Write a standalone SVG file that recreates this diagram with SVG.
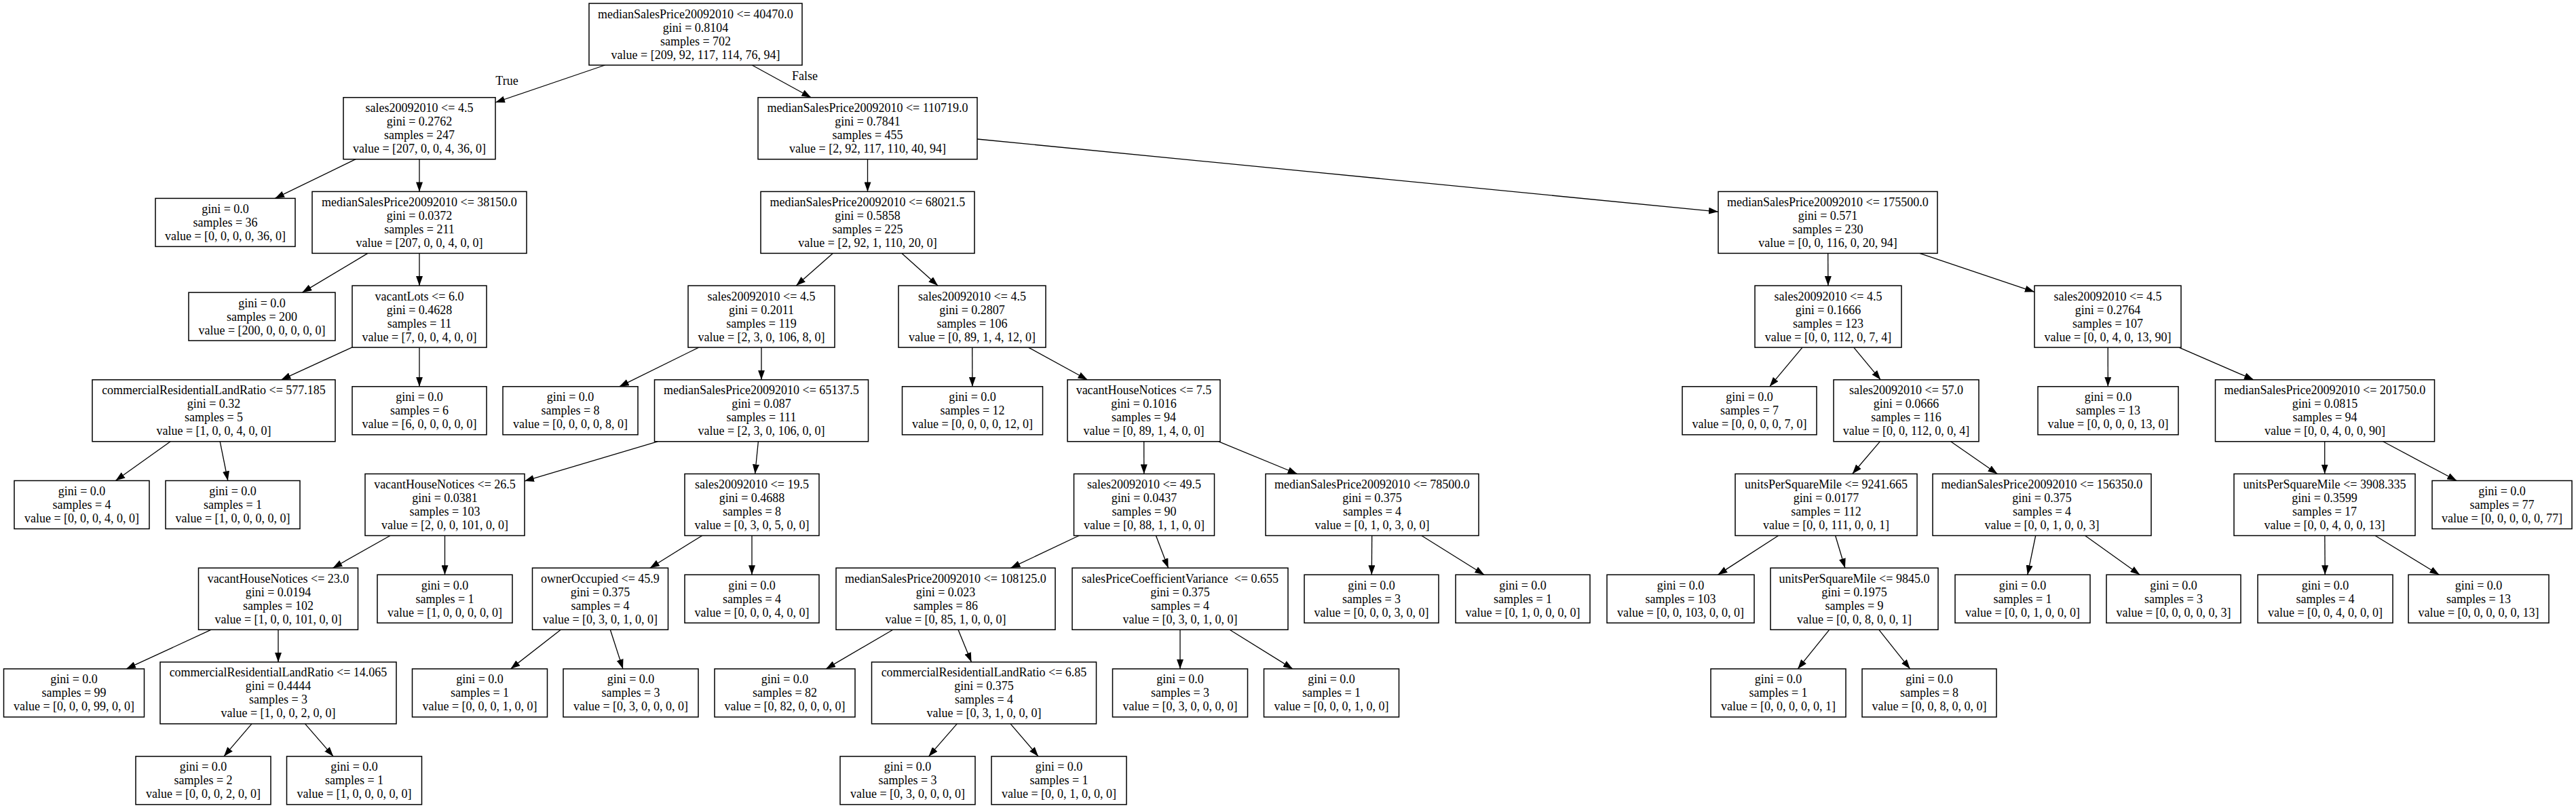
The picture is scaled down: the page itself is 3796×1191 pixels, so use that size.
<svg xmlns="http://www.w3.org/2000/svg" width="3796" height="1191" viewBox="0 0 3796 1191">
<style>
.node rect{fill:#fff;stroke:#000;stroke-width:1.5}
text{font-family:"Liberation Serif","Times New Roman",serif;font-size:18px;text-anchor:middle;fill:#000}
.edges line{stroke:#000;stroke-width:1.3;marker-end:url(#ah)}
</style>
<defs>
<marker id="ah" markerUnits="userSpaceOnUse" markerWidth="14" markerHeight="10" refX="14" refY="5" orient="auto"><path d="M0,0 L14,5 L0,10 z" fill="#000"/></marker>
</defs>
<rect x="0" y="0" width="3796" height="1191" fill="#fff"/>
<g class="edges">
<line x1="891.5" y1="96" x2="730" y2="151"/>
<line x1="1108.2" y1="96" x2="1195.3" y2="143.7"/>
<line x1="524.2" y1="234.7" x2="405.2" y2="292.4"/>
<line x1="618" y1="234.7" x2="618" y2="282.4"/>
<line x1="1278.5" y1="234.7" x2="1278.5" y2="282.4"/>
<line x1="1440" y1="205" x2="2532" y2="312.1"/>
<line x1="541.9" y1="373.4" x2="445.4" y2="431.1"/>
<line x1="618" y1="373.4" x2="618" y2="421.1"/>
<line x1="1227.2" y1="373.4" x2="1173.3" y2="421.1"/>
<line x1="1329" y1="373.4" x2="1382" y2="421.1"/>
<line x1="2693.7" y1="373.4" x2="2693.9" y2="421.1"/>
<line x1="2828.8" y1="373.4" x2="2998" y2="430.3"/>
<line x1="519" y1="511.9" x2="414.4" y2="559.8"/>
<line x1="618" y1="512.1" x2="618" y2="569.8"/>
<line x1="1029.7" y1="512.1" x2="912.6" y2="569.8"/>
<line x1="1122" y1="512.1" x2="1122" y2="559.8"/>
<line x1="1432.7" y1="512.1" x2="1432.9" y2="569.8"/>
<line x1="1515.5" y1="512.1" x2="1602.5" y2="559.8"/>
<line x1="2656" y1="512.1" x2="2607.7" y2="569.8"/>
<line x1="2731.7" y1="512.1" x2="2771.3" y2="559.8"/>
<line x1="3106.2" y1="512.1" x2="3106.3" y2="569.8"/>
<line x1="3211" y1="512.1" x2="3321" y2="559.8"/>
<line x1="251.2" y1="650.8" x2="170.3" y2="708.5"/>
<line x1="324.2" y1="650.8" x2="335.8" y2="708.5"/>
<line x1="969" y1="650.8" x2="773" y2="709.1"/>
<line x1="1117.4" y1="650.8" x2="1112.6" y2="698.5"/>
<line x1="1685.7" y1="650.8" x2="1685.8" y2="698.5"/>
<line x1="1795.9" y1="650.8" x2="1911.6" y2="698.5"/>
<line x1="2770.3" y1="650.8" x2="2729.7" y2="698.5"/>
<line x1="2874.6" y1="650.8" x2="2943.4" y2="698.5"/>
<line x1="3425.7" y1="650.8" x2="3425.7" y2="698.5"/>
<line x1="3511.6" y1="650.8" x2="3620.2" y2="708.5"/>
<line x1="575" y1="789.5" x2="490.5" y2="837.2"/>
<line x1="655.5" y1="789.5" x2="655.5" y2="847.2"/>
<line x1="1034.7" y1="789.5" x2="957.8" y2="837.2"/>
<line x1="1108" y1="789.5" x2="1108" y2="847.2"/>
<line x1="1590.1" y1="789.5" x2="1489.4" y2="837.2"/>
<line x1="1703.4" y1="789.5" x2="1721.6" y2="837.2"/>
<line x1="2021.7" y1="789.5" x2="2021.3" y2="847.2"/>
<line x1="2094.8" y1="789.5" x2="2187.2" y2="847.2"/>
<line x1="2620.6" y1="789.5" x2="2531.4" y2="847.2"/>
<line x1="2704.6" y1="789.5" x2="2718.9" y2="837.2"/>
<line x1="2999.7" y1="789.5" x2="2987.8" y2="847.2"/>
<line x1="3072.6" y1="789.5" x2="3153.3" y2="847.2"/>
<line x1="3425.8" y1="789.5" x2="3426.2" y2="847.2"/>
<line x1="3500" y1="789.5" x2="3594.4" y2="847.2"/>
<line x1="311.3" y1="928.2" x2="186.1" y2="985.9"/>
<line x1="410" y1="928.2" x2="410" y2="975.9"/>
<line x1="826.3" y1="928.2" x2="752.4" y2="985.9"/>
<line x1="899.3" y1="928.2" x2="918" y2="985.9"/>
<line x1="1315.8" y1="928.2" x2="1217.2" y2="985.9"/>
<line x1="1412" y1="928.2" x2="1431.5" y2="975.9"/>
<line x1="1739" y1="928.2" x2="1739" y2="985.9"/>
<line x1="1812.1" y1="928.2" x2="1904.9" y2="985.9"/>
<line x1="2695.8" y1="928.2" x2="2649.2" y2="985.9"/>
<line x1="2768.7" y1="928.2" x2="2814.7" y2="985.9"/>
<line x1="371" y1="1066.9" x2="329.9" y2="1114.9"/>
<line x1="449.5" y1="1066.9" x2="491.2" y2="1114.9"/>
<line x1="1410.3" y1="1066.9" x2="1368.5" y2="1114.9"/>
<line x1="1489" y1="1066.9" x2="1530.1" y2="1114.9"/>
<text x="747" y="125">True</text>
<text x="1186" y="118">False</text>
</g>
<g id="n0" class="node"><rect x="868" y="5" width="314" height="91"/><text x="1025" y="26.5">medianSalesPrice20092010 &lt;= 40470.0<tspan x="1025" dy="20">gini = 0.8104</tspan><tspan x="1025" dy="20">samples = 702</tspan><tspan x="1025" dy="20">value = [209, 92, 117, 114, 76, 94]</tspan></text></g>
<g id="n1" class="node"><rect x="506" y="143.7" width="224" height="91"/><text x="618" y="165.2">sales20092010 &lt;= 4.5<tspan x="618" dy="20">gini = 0.2762</tspan><tspan x="618" dy="20">samples = 247</tspan><tspan x="618" dy="20">value = [207, 0, 0, 4, 36, 0]</tspan></text></g>
<g id="n2" class="node"><rect x="1117" y="143.7" width="323" height="91"/><text x="1278.5" y="165.2">medianSalesPrice20092010 &lt;= 110719.0<tspan x="1278.5" dy="20">gini = 0.7841</tspan><tspan x="1278.5" dy="20">samples = 455</tspan><tspan x="1278.5" dy="20">value = [2, 92, 117, 110, 40, 94]</tspan></text></g>
<g id="n3" class="node"><rect x="229" y="292.4" width="206" height="71"/><text x="332" y="313.9">gini = 0.0<tspan x="332" dy="20">samples = 36</tspan><tspan x="332" dy="20">value = [0, 0, 0, 0, 36, 0]</tspan></text></g>
<g id="n4" class="node"><rect x="460" y="282.4" width="316" height="91"/><text x="618" y="303.9">medianSalesPrice20092010 &lt;= 38150.0<tspan x="618" dy="20">gini = 0.0372</tspan><tspan x="618" dy="20">samples = 211</tspan><tspan x="618" dy="20">value = [207, 0, 0, 4, 0, 0]</tspan></text></g>
<g id="n5" class="node"><rect x="1121" y="282.4" width="315" height="91"/><text x="1278.5" y="303.9">medianSalesPrice20092010 &lt;= 68021.5<tspan x="1278.5" dy="20">gini = 0.5858</tspan><tspan x="1278.5" dy="20">samples = 225</tspan><tspan x="1278.5" dy="20">value = [2, 92, 1, 110, 20, 0]</tspan></text></g>
<g id="n6" class="node"><rect x="2532" y="282.4" width="323" height="91"/><text x="2693.5" y="303.9">medianSalesPrice20092010 &lt;= 175500.0<tspan x="2693.5" dy="20">gini = 0.571</tspan><tspan x="2693.5" dy="20">samples = 230</tspan><tspan x="2693.5" dy="20">value = [0, 0, 116, 0, 20, 94]</tspan></text></g>
<g id="n7" class="node"><rect x="278" y="431.1" width="216" height="71"/><text x="386" y="452.6">gini = 0.0<tspan x="386" dy="20">samples = 200</tspan><tspan x="386" dy="20">value = [200, 0, 0, 0, 0, 0]</tspan></text></g>
<g id="n8" class="node"><rect x="519" y="421.1" width="198" height="91"/><text x="618" y="442.6">vacantLots &lt;= 6.0<tspan x="618" dy="20">gini = 0.4628</tspan><tspan x="618" dy="20">samples = 11</tspan><tspan x="618" dy="20">value = [7, 0, 0, 4, 0, 0]</tspan></text></g>
<g id="n9" class="node"><rect x="1014" y="421.1" width="216" height="91"/><text x="1122" y="442.6">sales20092010 &lt;= 4.5<tspan x="1122" dy="20">gini = 0.2011</tspan><tspan x="1122" dy="20">samples = 119</tspan><tspan x="1122" dy="20">value = [2, 3, 0, 106, 8, 0]</tspan></text></g>
<g id="n10" class="node"><rect x="1324" y="421.1" width="217" height="91"/><text x="1432.5" y="442.6">sales20092010 &lt;= 4.5<tspan x="1432.5" dy="20">gini = 0.2807</tspan><tspan x="1432.5" dy="20">samples = 106</tspan><tspan x="1432.5" dy="20">value = [0, 89, 1, 4, 12, 0]</tspan></text></g>
<g id="n11" class="node"><rect x="2586" y="421.1" width="216" height="91"/><text x="2694" y="442.6">sales20092010 &lt;= 4.5<tspan x="2694" dy="20">gini = 0.1666</tspan><tspan x="2694" dy="20">samples = 123</tspan><tspan x="2694" dy="20">value = [0, 0, 112, 0, 7, 4]</tspan></text></g>
<g id="n12" class="node"><rect x="2998" y="421.1" width="216" height="91"/><text x="3106" y="442.6">sales20092010 &lt;= 4.5<tspan x="3106" dy="20">gini = 0.2764</tspan><tspan x="3106" dy="20">samples = 107</tspan><tspan x="3106" dy="20">value = [0, 0, 4, 0, 13, 90]</tspan></text></g>
<g id="n13" class="node"><rect x="136" y="559.8" width="358" height="91"/><text x="315" y="581.3">commercialResidentialLandRatio &lt;= 577.185<tspan x="315" dy="20">gini = 0.32</tspan><tspan x="315" dy="20">samples = 5</tspan><tspan x="315" dy="20">value = [1, 0, 0, 4, 0, 0]</tspan></text></g>
<g id="n14" class="node"><rect x="519" y="569.8" width="198" height="71"/><text x="618" y="591.3">gini = 0.0<tspan x="618" dy="20">samples = 6</tspan><tspan x="618" dy="20">value = [6, 0, 0, 0, 0, 0]</tspan></text></g>
<g id="n15" class="node"><rect x="741" y="569.8" width="199" height="71"/><text x="840.5" y="591.3">gini = 0.0<tspan x="840.5" dy="20">samples = 8</tspan><tspan x="840.5" dy="20">value = [0, 0, 0, 0, 8, 0]</tspan></text></g>
<g id="n16" class="node"><rect x="964.5" y="559.8" width="315" height="91"/><text x="1122" y="581.3">medianSalesPrice20092010 &lt;= 65137.5<tspan x="1122" dy="20">gini = 0.087</tspan><tspan x="1122" dy="20">samples = 111</tspan><tspan x="1122" dy="20">value = [2, 3, 0, 106, 0, 0]</tspan></text></g>
<g id="n17" class="node"><rect x="1329.5" y="569.8" width="207" height="71"/><text x="1433" y="591.3">gini = 0.0<tspan x="1433" dy="20">samples = 12</tspan><tspan x="1433" dy="20">value = [0, 0, 0, 0, 12, 0]</tspan></text></g>
<g id="n18" class="node"><rect x="1573" y="559.8" width="225" height="91"/><text x="1685.5" y="581.3">vacantHouseNotices &lt;= 7.5<tspan x="1685.5" dy="20">gini = 0.1016</tspan><tspan x="1685.5" dy="20">samples = 94</tspan><tspan x="1685.5" dy="20">value = [0, 89, 1, 4, 0, 0]</tspan></text></g>
<g id="n19" class="node"><rect x="2479" y="569.8" width="198" height="71"/><text x="2578" y="591.3">gini = 0.0<tspan x="2578" dy="20">samples = 7</tspan><tspan x="2578" dy="20">value = [0, 0, 0, 0, 7, 0]</tspan></text></g>
<g id="n20" class="node"><rect x="2702" y="559.8" width="214" height="91"/><text x="2809" y="581.3">sales20092010 &lt;= 57.0<tspan x="2809" dy="20">gini = 0.0666</tspan><tspan x="2809" dy="20">samples = 116</tspan><tspan x="2809" dy="20">value = [0, 0, 112, 0, 0, 4]</tspan></text></g>
<g id="n21" class="node"><rect x="3003" y="569.8" width="207" height="71"/><text x="3106.5" y="591.3">gini = 0.0<tspan x="3106.5" dy="20">samples = 13</tspan><tspan x="3106.5" dy="20">value = [0, 0, 0, 0, 13, 0]</tspan></text></g>
<g id="n22" class="node"><rect x="3264.5" y="559.8" width="323" height="91"/><text x="3426" y="581.3">medianSalesPrice20092010 &lt;= 201750.0<tspan x="3426" dy="20">gini = 0.0815</tspan><tspan x="3426" dy="20">samples = 94</tspan><tspan x="3426" dy="20">value = [0, 0, 4, 0, 0, 90]</tspan></text></g>
<g id="n23" class="node"><rect x="21" y="708.5" width="199" height="71"/><text x="120.5" y="730">gini = 0.0<tspan x="120.5" dy="20">samples = 4</tspan><tspan x="120.5" dy="20">value = [0, 0, 0, 4, 0, 0]</tspan></text></g>
<g id="n24" class="node"><rect x="244" y="708.5" width="198" height="71"/><text x="343" y="730">gini = 0.0<tspan x="343" dy="20">samples = 1</tspan><tspan x="343" dy="20">value = [1, 0, 0, 0, 0, 0]</tspan></text></g>
<g id="n25" class="node"><rect x="538" y="698.5" width="235" height="91"/><text x="655.5" y="720">vacantHouseNotices &lt;= 26.5<tspan x="655.5" dy="20">gini = 0.0381</tspan><tspan x="655.5" dy="20">samples = 103</tspan><tspan x="655.5" dy="20">value = [2, 0, 0, 101, 0, 0]</tspan></text></g>
<g id="n26" class="node"><rect x="1009" y="698.5" width="198" height="91"/><text x="1108" y="720">sales20092010 &lt;= 19.5<tspan x="1108" dy="20">gini = 0.4688</tspan><tspan x="1108" dy="20">samples = 8</tspan><tspan x="1108" dy="20">value = [0, 3, 0, 5, 0, 0]</tspan></text></g>
<g id="n27" class="node"><rect x="1582.5" y="698.5" width="207" height="91"/><text x="1686" y="720">sales20092010 &lt;= 49.5<tspan x="1686" dy="20">gini = 0.0437</tspan><tspan x="1686" dy="20">samples = 90</tspan><tspan x="1686" dy="20">value = [0, 88, 1, 1, 0, 0]</tspan></text></g>
<g id="n28" class="node"><rect x="1865" y="698.5" width="314" height="91"/><text x="2022" y="720">medianSalesPrice20092010 &lt;= 78500.0<tspan x="2022" dy="20">gini = 0.375</tspan><tspan x="2022" dy="20">samples = 4</tspan><tspan x="2022" dy="20">value = [0, 1, 0, 3, 0, 0]</tspan></text></g>
<g id="n29" class="node"><rect x="2557" y="698.5" width="268" height="91"/><text x="2691" y="720">unitsPerSquareMile &lt;= 9241.665<tspan x="2691" dy="20">gini = 0.0177</tspan><tspan x="2691" dy="20">samples = 112</tspan><tspan x="2691" dy="20">value = [0, 0, 111, 0, 0, 1]</tspan></text></g>
<g id="n30" class="node"><rect x="2848" y="698.5" width="322" height="91"/><text x="3009" y="720">medianSalesPrice20092010 &lt;= 156350.0<tspan x="3009" dy="20">gini = 0.375</tspan><tspan x="3009" dy="20">samples = 4</tspan><tspan x="3009" dy="20">value = [0, 0, 1, 0, 0, 3]</tspan></text></g>
<g id="n31" class="node"><rect x="3292" y="698.5" width="267" height="91"/><text x="3425.5" y="720">unitsPerSquareMile &lt;= 3908.335<tspan x="3425.5" dy="20">gini = 0.3599</tspan><tspan x="3425.5" dy="20">samples = 17</tspan><tspan x="3425.5" dy="20">value = [0, 0, 4, 0, 0, 13]</tspan></text></g>
<g id="n32" class="node"><rect x="3584" y="708.5" width="206" height="71"/><text x="3687" y="730">gini = 0.0<tspan x="3687" dy="20">samples = 77</tspan><tspan x="3687" dy="20">value = [0, 0, 0, 0, 0, 77]</tspan></text></g>
<g id="n33" class="node"><rect x="292.5" y="837.2" width="235" height="91"/><text x="410" y="858.7">vacantHouseNotices &lt;= 23.0<tspan x="410" dy="20">gini = 0.0194</tspan><tspan x="410" dy="20">samples = 102</tspan><tspan x="410" dy="20">value = [1, 0, 0, 101, 0, 0]</tspan></text></g>
<g id="n34" class="node"><rect x="556" y="847.2" width="199" height="71"/><text x="655.5" y="868.7">gini = 0.0<tspan x="655.5" dy="20">samples = 1</tspan><tspan x="655.5" dy="20">value = [1, 0, 0, 0, 0, 0]</tspan></text></g>
<g id="n35" class="node"><rect x="784.5" y="837.2" width="200" height="91"/><text x="884.5" y="858.7">ownerOccupied &lt;= 45.9<tspan x="884.5" dy="20">gini = 0.375</tspan><tspan x="884.5" dy="20">samples = 4</tspan><tspan x="884.5" dy="20">value = [0, 3, 0, 1, 0, 0]</tspan></text></g>
<g id="n36" class="node"><rect x="1009" y="847.2" width="198" height="71"/><text x="1108" y="868.7">gini = 0.0<tspan x="1108" dy="20">samples = 4</tspan><tspan x="1108" dy="20">value = [0, 0, 0, 4, 0, 0]</tspan></text></g>
<g id="n37" class="node"><rect x="1232" y="837.2" width="323" height="91"/><text x="1393.5" y="858.7">medianSalesPrice20092010 &lt;= 108125.0<tspan x="1393.5" dy="20">gini = 0.023</tspan><tspan x="1393.5" dy="20">samples = 86</tspan><tspan x="1393.5" dy="20">value = [0, 85, 1, 0, 0, 0]</tspan></text></g>
<g id="n38" class="node"><rect x="1580" y="837.2" width="318" height="91"/><text x="1739" y="858.7">salesPriceCoefficientVariance&#160; &lt;= 0.655<tspan x="1739" dy="20">gini = 0.375</tspan><tspan x="1739" dy="20">samples = 4</tspan><tspan x="1739" dy="20">value = [0, 3, 0, 1, 0, 0]</tspan></text></g>
<g id="n39" class="node"><rect x="1922" y="847.2" width="198" height="71"/><text x="2021" y="868.7">gini = 0.0<tspan x="2021" dy="20">samples = 3</tspan><tspan x="2021" dy="20">value = [0, 0, 0, 3, 0, 0]</tspan></text></g>
<g id="n40" class="node"><rect x="2145" y="847.2" width="198" height="71"/><text x="2244" y="868.7">gini = 0.0<tspan x="2244" dy="20">samples = 1</tspan><tspan x="2244" dy="20">value = [0, 1, 0, 0, 0, 0]</tspan></text></g>
<g id="n41" class="node"><rect x="2368" y="847.2" width="217" height="71"/><text x="2476.5" y="868.7">gini = 0.0<tspan x="2476.5" dy="20">samples = 103</tspan><tspan x="2476.5" dy="20">value = [0, 0, 103, 0, 0, 0]</tspan></text></g>
<g id="n42" class="node"><rect x="2609" y="837.2" width="247" height="91"/><text x="2732.5" y="858.7">unitsPerSquareMile &lt;= 9845.0<tspan x="2732.5" dy="20">gini = 0.1975</tspan><tspan x="2732.5" dy="20">samples = 9</tspan><tspan x="2732.5" dy="20">value = [0, 0, 8, 0, 0, 1]</tspan></text></g>
<g id="n43" class="node"><rect x="2881" y="847.2" width="199" height="71"/><text x="2980.5" y="868.7">gini = 0.0<tspan x="2980.5" dy="20">samples = 1</tspan><tspan x="2980.5" dy="20">value = [0, 0, 1, 0, 0, 0]</tspan></text></g>
<g id="n44" class="node"><rect x="3104" y="847.2" width="198" height="71"/><text x="3203" y="868.7">gini = 0.0<tspan x="3203" dy="20">samples = 3</tspan><tspan x="3203" dy="20">value = [0, 0, 0, 0, 0, 3]</tspan></text></g>
<g id="n45" class="node"><rect x="3327" y="847.2" width="199" height="71"/><text x="3426.5" y="868.7">gini = 0.0<tspan x="3426.5" dy="20">samples = 4</tspan><tspan x="3426.5" dy="20">value = [0, 0, 4, 0, 0, 0]</tspan></text></g>
<g id="n46" class="node"><rect x="3549" y="847.2" width="207" height="71"/><text x="3652.5" y="868.7">gini = 0.0<tspan x="3652.5" dy="20">samples = 13</tspan><tspan x="3652.5" dy="20">value = [0, 0, 0, 0, 0, 13]</tspan></text></g>
<g id="n47" class="node"><rect x="5.5" y="985.9" width="207" height="71"/><text x="109" y="1007.4">gini = 0.0<tspan x="109" dy="20">samples = 99</tspan><tspan x="109" dy="20">value = [0, 0, 0, 99, 0, 0]</tspan></text></g>
<g id="n48" class="node"><rect x="236" y="975.9" width="348" height="91"/><text x="410" y="997.4">commercialResidentialLandRatio &lt;= 14.065<tspan x="410" dy="20">gini = 0.4444</tspan><tspan x="410" dy="20">samples = 3</tspan><tspan x="410" dy="20">value = [1, 0, 0, 2, 0, 0]</tspan></text></g>
<g id="n49" class="node"><rect x="607.5" y="985.9" width="199" height="71"/><text x="707" y="1007.4">gini = 0.0<tspan x="707" dy="20">samples = 1</tspan><tspan x="707" dy="20">value = [0, 0, 0, 1, 0, 0]</tspan></text></g>
<g id="n50" class="node"><rect x="830" y="985.9" width="199" height="71"/><text x="929.5" y="1007.4">gini = 0.0<tspan x="929.5" dy="20">samples = 3</tspan><tspan x="929.5" dy="20">value = [0, 3, 0, 0, 0, 0]</tspan></text></g>
<g id="n51" class="node"><rect x="1053" y="985.9" width="207" height="71"/><text x="1156.5" y="1007.4">gini = 0.0<tspan x="1156.5" dy="20">samples = 82</tspan><tspan x="1156.5" dy="20">value = [0, 82, 0, 0, 0, 0]</tspan></text></g>
<g id="n52" class="node"><rect x="1284.5" y="975.9" width="331" height="91"/><text x="1450" y="997.4">commercialResidentialLandRatio &lt;= 6.85<tspan x="1450" dy="20">gini = 0.375</tspan><tspan x="1450" dy="20">samples = 4</tspan><tspan x="1450" dy="20">value = [0, 3, 1, 0, 0, 0]</tspan></text></g>
<g id="n53" class="node"><rect x="1639.5" y="985.9" width="199" height="71"/><text x="1739" y="1007.4">gini = 0.0<tspan x="1739" dy="20">samples = 3</tspan><tspan x="1739" dy="20">value = [0, 3, 0, 0, 0, 0]</tspan></text></g>
<g id="n54" class="node"><rect x="1862.5" y="985.9" width="199" height="71"/><text x="1962" y="1007.4">gini = 0.0<tspan x="1962" dy="20">samples = 1</tspan><tspan x="1962" dy="20">value = [0, 0, 0, 1, 0, 0]</tspan></text></g>
<g id="n55" class="node"><rect x="2521" y="985.9" width="199" height="71"/><text x="2620.5" y="1007.4">gini = 0.0<tspan x="2620.5" dy="20">samples = 1</tspan><tspan x="2620.5" dy="20">value = [0, 0, 0, 0, 0, 1]</tspan></text></g>
<g id="n56" class="node"><rect x="2744" y="985.9" width="198" height="71"/><text x="2843" y="1007.4">gini = 0.0<tspan x="2843" dy="20">samples = 8</tspan><tspan x="2843" dy="20">value = [0, 0, 8, 0, 0, 0]</tspan></text></g>
<g id="n57" class="node"><rect x="200" y="1114.9" width="199" height="71"/><text x="299.5" y="1136.4">gini = 0.0<tspan x="299.5" dy="20">samples = 2</tspan><tspan x="299.5" dy="20">value = [0, 0, 0, 2, 0, 0]</tspan></text></g>
<g id="n58" class="node"><rect x="422.5" y="1114.9" width="199" height="71"/><text x="522" y="1136.4">gini = 0.0<tspan x="522" dy="20">samples = 1</tspan><tspan x="522" dy="20">value = [1, 0, 0, 0, 0, 0]</tspan></text></g>
<g id="n59" class="node"><rect x="1238" y="1114.9" width="199" height="71"/><text x="1337.5" y="1136.4">gini = 0.0<tspan x="1337.5" dy="20">samples = 3</tspan><tspan x="1337.5" dy="20">value = [0, 3, 0, 0, 0, 0]</tspan></text></g>
<g id="n60" class="node"><rect x="1461" y="1114.9" width="199" height="71"/><text x="1560.5" y="1136.4">gini = 0.0<tspan x="1560.5" dy="20">samples = 1</tspan><tspan x="1560.5" dy="20">value = [0, 0, 1, 0, 0, 0]</tspan></text></g>
</svg>
